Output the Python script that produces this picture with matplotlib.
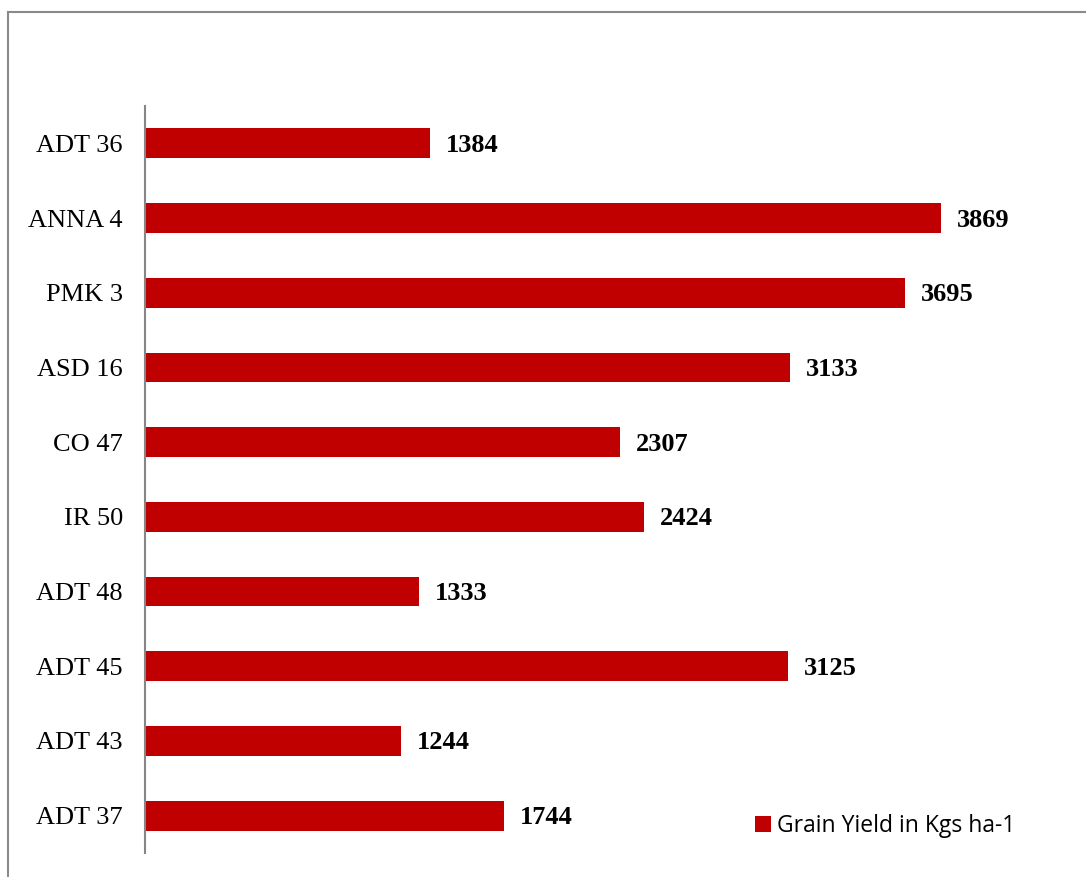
import matplotlib
matplotlib.use("Agg")
import matplotlib.pyplot as plt
from matplotlib.patches import Patch
from matplotlib.lines import Line2D

varieties = ["ADT 36", "ANNA 4", "PMK 3", "ASD 16", "CO 47", "IR 50",
             "ADT 48", "ADT 45", "ADT 43", "ADT 37"]
grain_yield = [1384, 3869, 3695, 3133, 2307, 2424, 1333, 3125, 1244, 1744]
series_name = "Grain Yield in Kgs ha-1"

W, H = 1086, 877
fig = plt.figure(figsize=(W / 100, H / 100), dpi=100)
fig.patch.set_facecolor("white")

ax_left, ax_right = 145 / W, 1045 / W
ax_top, ax_bottom = 1 - 106 / H, 1 - 853 / H
ax = fig.add_axes([ax_left, ax_bottom, ax_right - ax_left, ax_top - ax_bottom])

bar_color = "#C00000"
ypos = list(range(len(varieties)))
ax.barh(ypos, grain_yield, height=0.4, color=bar_color, label=series_name, zorder=2)
ax.set_ylim(len(varieties) - 0.5, -0.5)
ax.set_xlim(0, 4375)

ax.set_yticks(ypos)
ax.set_yticklabels(varieties, family="Liberation Serif", fontsize=19)
ax.tick_params(axis="y", length=0, pad=16)
ax.xaxis.set_visible(False)
for s in ["top", "right", "bottom"]:
    ax.spines[s].set_visible(False)
ax.spines["left"].set_color("#868686")
ax.spines["left"].set_linewidth(1.5)
ax.spines["left"].set_zorder(3)

for y, v in zip(ypos, grain_yield):
    ax.annotate(str(v), xy=(v, y), xytext=(16, -2), textcoords="offset pixels",
                ha="left", va="center", family="Liberation Serif",
                fontweight="bold", fontsize=19)

handle = Patch(facecolor=bar_color, edgecolor="none")
fig.legend([handle], [series_name], loc="center left",
           bbox_to_anchor=(755 / W, 1 - 826 / H), frameon=False,
           prop={"family": "Open Sans", "size": 16.5},
           handlelength=0.7, handleheight=0.7, handletextpad=0.25,
           borderpad=0, borderaxespad=0)

# outer frame (left and top edges)
fig.add_artist(Line2D([8 / W, 8 / W], [0, 1 - 12 / H], transform=fig.transFigure,
                      color="#8a8a8a", linewidth=1.5))
fig.add_artist(Line2D([8 / W, 1], [1 - 12 / H, 1 - 12 / H], transform=fig.transFigure,
                      color="#8a8a8a", linewidth=1.5))

fig.savefig("out.png", dpi=100, facecolor="white")
